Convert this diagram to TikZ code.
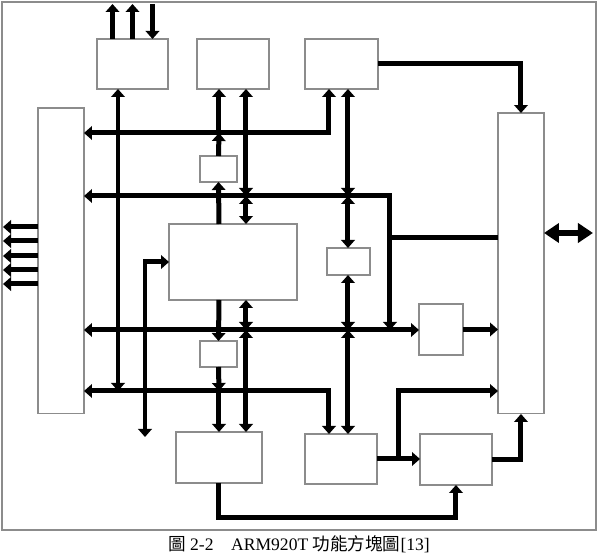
\documentclass[tikz,border=0pt]{standalone}
\usepackage{fontspec}
\setmainfont{Liberation Serif}
\newfontfamily\cjk{Noto Sans CJK TC}
\usetikzlibrary{arrows.meta}
\definecolor{framegray}{HTML}{8C8C8C}

\begin{document}
\begin{tikzpicture}[
    x=0.02cm, y=-0.02cm,
    frame/.style={draw=framegray, line width=0.6pt},
    block/.style={draw=framegray, line width=0.6pt, fill=white, inner sep=0pt, outer sep=0pt},
    wire/.style={line width=0.1cm},
    arrow/.style={wire, -{Triangle[length=0.16cm, width=0.27cm]}},
    twoway/.style={wire, {Triangle[length=0.16cm, width=0.27cm]}-{Triangle[length=0.16cm, width=0.27cm]}},
    bigway/.style={line width=0.13cm, {Triangle[length=0.3cm, width=0.38cm]}-{Triangle[length=0.3cm, width=0.38cm]}}
]
    \useasboundingbox (0,0) rectangle (600,553);
    \draw[frame] (2,2) rectangle (596,530);

    \node[block, minimum width=1.42cm, minimum height=1.0cm] (topa) at (132.5,64) {};
    \node[block, minimum width=1.44cm, minimum height=1.0cm] (topb) at (233,64) {};
    \node[block, minimum width=1.46cm, minimum height=1.0cm] (topc) at (341.5,64) {};
    \node[block, minimum width=0.92cm, minimum height=6.12cm] (leftbar) at (61,261) {};
    \node[block, minimum width=0.92cm, minimum height=6.02cm] (rightbar) at (521,263.5) {};
    \node[block, minimum width=0.74cm, minimum height=0.52cm] (smallup) at (218.5,169) {};
    \node[block, minimum width=2.56cm, minimum height=1.52cm] (core) at (233,262) {};
    \node[block, minimum width=0.86cm, minimum height=0.54cm] (smallmid) at (348.5,261.5) {};
    \node[block, minimum width=0.74cm, minimum height=0.52cm] (smalldown) at (218.5,354) {};
    \node[block, minimum width=0.88cm, minimum height=1.02cm] (sidebox) at (441,329.5) {};
    \node[block, minimum width=1.72cm, minimum height=1.02cm] (lowa) at (219,457.5) {};
    \node[block, minimum width=1.44cm, minimum height=1.0cm] (lowb) at (341,459) {};
    \node[block, minimum width=1.44cm, minimum height=1.02cm] (lowc) at (456,459.5) {};

    \coordinate (h1) at (0,133);
    \coordinate (h2) at (0,196);
    \coordinate (h3) at (0,330);
    \coordinate (h4) at (0,391);
    \coordinate (h5) at (0,238);
    \coordinate (h6) at (0,518);
    \coordinate (v1) at (118,0);
    \coordinate (v3) at (219,0);
    \coordinate (v4) at (246,0);
    \coordinate (v5) at (329,0);
    \coordinate (v6) at (348,0);
    \coordinate (v7) at (390,0);
    \coordinate (v9) at (399,0);
    \coordinate (gin) at (145,437);

    \draw[twoway] (leftbar.east |- h1) -| (v5 |- topc.south);
    \draw[twoway] (leftbar.east |- h2) -| (v7 |- h3);
    \draw[wire] (v7 |- h5) -- (rightbar.west |- h5);
    \draw[twoway] (leftbar.east |- h3) -- (sidebox.west |- h3);
    \draw[twoway] (leftbar.east |- h4) -| (v5 |- lowb.north);
    \draw[twoway] (v1 |- topa.south) -- (v1 |- h4);
    \draw[twoway] (gin) |- (core.west);

    \draw[arrow] (smallup.north) -- (v3 |- h1);
    \draw[arrow] (v3 |- h1) -- (v3 |- topb.south);
    \draw[arrow] (v3 |- core.north) -- (smallup.south);
    \draw[arrow] (v3 |- core.south) -- (smalldown.north);
    \draw[arrow] (smalldown.south) -- (v3 |- h4);
    \draw[arrow] (v3 |- h4) -- (lowa.north);

    \foreach \p/\q in {topb.south/h2, h2/core.north, core.south/h3, h3/lowa.north}
        \draw[twoway] (v4 |- \p) -- (v4 |- \q);
    \foreach \p/\q in {topc.south/h2, h2/smallmid.north, smallmid.south/h3, h3/lowb.north}
        \draw[twoway] (v6 |- \p) -- (v6 |- \q);

    \draw[arrow] (topc.east) -| (rightbar.north);
    \draw[arrow] (sidebox.east) -- (rightbar.west |- sidebox.east);
    \draw[arrow] (lowb.east) -- (lowc.west |- lowb.east);
    \draw[arrow] (v9 |- lowb.east) |- (rightbar.west |- h4);
    \draw[arrow] (lowc.east) -| (rightbar.south);
    \draw[arrow] (lowa.south) -- (lowa.south |- h6) -| (lowc.south);

    \foreach \dx in {-20,0}
        \draw[arrow] (topa.north) ++(\dx,0) -- ++(0,-35);
    \draw[arrow] (topa.north) ++(20,-35) -- ++(0,35);
    \foreach \y in {227,241,256,270,284}
        \draw[arrow] (leftbar.west |- 0,\y) -- ++(-35,0);
    \draw[bigway] (rightbar.east |- 0,233) -- ++(49,0);

    \node[font=\fontsize{10}{12}\selectfont] (caption) at (299,544) {{\cjk 圖} 2-2\hspace{1em}ARM920T {\cjk 功能方塊圖}[13]};
\end{tikzpicture}
\end{document}
